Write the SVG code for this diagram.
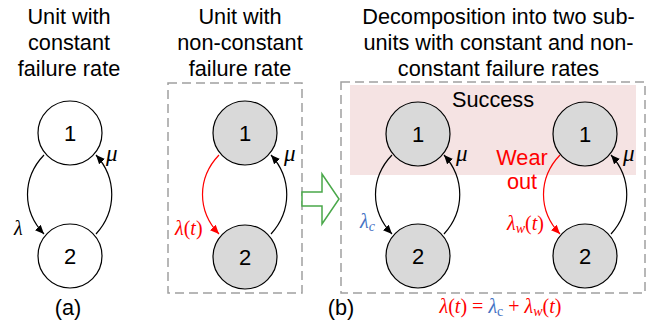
<svg xmlns="http://www.w3.org/2000/svg" width="651" height="330" viewBox="0 0 651 330">
<style>
.t{font-family:"Liberation Sans",Arial,sans-serif;font-size:21.7px;fill:#000;text-anchor:middle}
.n{font-family:"Liberation Sans",Arial,sans-serif;font-size:22px;fill:#000;text-anchor:middle}
.m{font-family:"Liberation Serif","Times New Roman",serif;font-size:20px;font-style:italic}
.mu{font-family:"Liberation Serif","Times New Roman",serif;font-size:23px;font-style:italic;fill:#000}
.cw{fill:#fff;stroke:#000;stroke-width:1.2}
.cg{fill:#d9d9d9;stroke:#000;stroke-width:1.2}
.a{fill:none;stroke:#000;stroke-width:1.2}
.ar{fill:none;stroke:#ff0000;stroke-width:1.2}
.box{fill:none;stroke:#a0a0a0;stroke-width:1.5;stroke-dasharray:9,5}
</style>
<defs>
<marker id="hb" markerWidth="10" markerHeight="8" refX="9" refY="4" orient="auto" markerUnits="userSpaceOnUse"><path d="M0,0 L9,4 L0,8 Z" fill="#000"/></marker>
<marker id="hr" markerWidth="10" markerHeight="8" refX="9" refY="4" orient="auto" markerUnits="userSpaceOnUse"><path d="M0,0 L9,4 L0,8 Z" fill="#ff0000"/></marker>
</defs>
<rect width="651" height="330" fill="#fff"/>

<g id="titles">
<text class="t" x="69" y="24">Unit with</text>
<text class="t" x="69" y="50">constant</text>
<text class="t" x="69" y="76">failure rate</text>
<text class="t" x="240" y="24">Unit with</text>
<text class="t" x="240" y="50">non-constant</text>
<text class="t" x="240" y="76">failure rate</text>
<text class="t" x="498.5" y="24">Decomposition into two sub-</text>
<text class="t" x="498.5" y="50">units with constant and non-</text>
<text class="t" x="498.5" y="76">constant failure rates</text>
</g>

<g id="frames">
<rect class="box" x="168" y="83" width="134" height="210"/>
<rect class="box" x="341" y="82" width="304" height="211"/>
<rect x="350" y="85" width="286" height="90" fill="#f5e3e3"/>
<text class="t" x="493" y="107">Success</text>
</g>

<g id="bigarrow">
<polygon points="302,192 322,192 322,174 339,199 322,224 322,206 302,206" fill="#fff" stroke="#4aa84a" stroke-width="1.5"/>
</g>

<g id="connectors">
<path class="a" d="M44,155 C22,178 22,211 44,234" marker-end="url(#hb)"/>
<path class="a" d="M96,234 C117,211 117,178 96,155" marker-end="url(#hb)"/>
<path class="ar" d="M219,155 C197,178 197,211 219,234" marker-end="url(#hr)"/>
<path class="a" d="M271,234 C292,211 292,178 271,155" marker-end="url(#hb)"/>
<path class="a" d="M392,155 C370,178 370,211 392,234" marker-end="url(#hb)"/>
<path class="a" d="M444,234 C465,211 465,178 444,155" marker-end="url(#hb)"/>
<path class="ar" d="M560,155 C538,178 538,211 560,234" marker-end="url(#hr)"/>
<path class="a" d="M611,234 C632,211 632,178 611,155" marker-end="url(#hb)"/>
</g>

<g id="a1"><circle class="cw" cx="70" cy="133" r="32"/><text class="n" x="70" y="141">1</text></g>
<g id="a2"><circle class="cw" cx="70" cy="256" r="32"/><text class="n" x="70" y="264">2</text></g>
<g id="b1"><circle class="cg" cx="245" cy="133" r="32"/><text class="n" x="245" y="141">1</text></g>
<g id="b2"><circle class="cg" cx="245" cy="257" r="32"/><text class="n" x="245" y="265">2</text></g>
<g id="c1"><circle class="cg" cx="418" cy="134" r="32"/><text class="n" x="418" y="142">1</text></g>
<g id="c2"><circle class="cg" cx="418" cy="256" r="32"/><text class="n" x="418" y="264">2</text></g>
<g id="d1"><circle class="cg" cx="585" cy="134" r="32"/><text class="n" x="585" y="142">1</text></g>
<g id="d2"><circle class="cg" cx="585" cy="256" r="32"/><text class="n" x="585" y="264">2</text></g>

<g id="labels">
<text class="m" x="14" y="235" fill="#000">λ</text>
<text class="mu" x="106" y="161">μ</text>
<text class="mu" x="284" y="161">μ</text>
<text class="mu" x="456" y="161">μ</text>
<text class="mu" x="623" y="161">μ</text>
<text class="m" x="175" y="235" fill="#ff0000">λ<tspan font-style="normal">(</tspan>t<tspan font-style="normal">)</tspan></text>
<text class="m" x="360" y="228" fill="#4472c4">λ<tspan font-size="14" dy="3">c</tspan></text>
<text class="m" x="507" y="230" fill="#ff0000">λ<tspan font-size="14" dy="3">w</tspan><tspan font-style="normal" dy="-3">(</tspan>t<tspan font-style="normal">)</tspan></text>
<text class="t" x="522" y="165" style="fill:#ff0000">Wear</text>
<text class="t" x="522" y="189" style="fill:#ff0000">out</text>
<text class="t" x="68" y="315">(a)</text>
<text class="t" x="341" y="315">(b)</text>
<text class="m" x="500.5" y="313" text-anchor="middle" fill="#ff0000">λ<tspan font-style="normal">(</tspan>t<tspan font-style="normal">) = </tspan><tspan fill="#4472c4">λ</tspan><tspan fill="#4472c4" font-style="normal" font-size="14" dy="3">c</tspan><tspan font-style="normal" dy="-3"> + </tspan>λ<tspan font-size="14" dy="3">w</tspan><tspan font-style="normal" dy="-3">(</tspan>t<tspan font-style="normal">)</tspan></text>
</g>
</svg>
